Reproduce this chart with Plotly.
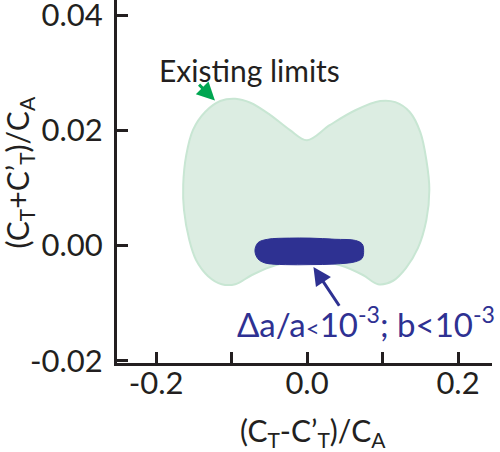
import plotly.graph_objects as go

# outline of the "existing limits" region
limX = [0.000, 0.030, 0.064, 0.097, 0.117, 0.136, 0.150, 0.158, 0.162, 0.158,
        0.147, 0.131, 0.114, 0.094, 0.074, 0.044, 0.000, -0.042, -0.073, -0.095,
        -0.113, -0.131, -0.147, -0.156, -0.163, -0.164, -0.160, -0.151, -0.135,
        -0.115, -0.095, -0.075, -0.049, -0.023, 0.000]
limY = [0.0183, 0.0209, 0.0235, 0.0251, 0.0249, 0.0232, 0.0197, 0.0149, 0.0097, 0.0044,
        -0.0004, -0.0039, -0.0061, -0.0067, -0.0051, -0.0034, -0.0025, -0.0034, -0.0051, -0.0067,
        -0.0067, -0.0053, -0.0025, 0.0010, 0.0062, 0.0105, 0.0157, 0.0201, 0.0232,
        0.0251, 0.0255, 0.0248, 0.0227, 0.0201, 0.0183]

# outline of the new-limit blob
newX = [-0.069, -0.065, -0.052, -0.023, 0.004, 0.037, 0.064, 0.073, 0.075, 0.073,
        0.064, 0.037, 0.004, -0.029, -0.056, -0.065, -0.069]
newY = [-0.0009, 0.0005, 0.0011, 0.0013, 0.0013, 0.0011, 0.0009, 0.0003, -0.0009, -0.0022,
        -0.0028, -0.0032, -0.0033, -0.0033, -0.0030, -0.0023, -0.0009]

xTicks = [-0.2, -0.1, 0.0, 0.1, 0.2]
xTickText = ["-0.2", "", "0.0", "", "0.2"]
yTicks = [-0.02, 0.00, 0.02, 0.04]
yTickText = ["-0.02", "0.00", "0.02", "0.04"]

INK = "#231f20"
BLUE = "#2e3192"
GREEN = "#00a651"
FONT = "Lato"

fig = go.Figure()

fig.add_trace(go.Scatter(
    x=limX, y=limY,
    mode="lines",
    line=dict(color="#c8e6d3", width=2, shape="spline", smoothing=1.0),
    fill="toself",
    fillcolor="#dcede2",
    hoverinfo="skip"
))

fig.add_trace(go.Scatter(
    x=newX, y=newY,
    mode="lines",
    line=dict(color=BLUE, width=1, shape="spline", smoothing=1.0),
    fill="toself",
    fillcolor=BLUE,
    hoverinfo="skip"
))

# arrows
fig.add_annotation(
    x=-0.122, y=0.0252, ax=-0.145, ay=0.0282,
    xref="x", yref="y", axref="x", ayref="y",
    text="", showarrow=True, arrowhead=2, arrowsize=1.2,
    arrowwidth=3, arrowcolor=GREEN
)
fig.add_annotation(
    x=0.0085, y=-0.0037, ax=0.044, ay=-0.0107,
    xref="x", yref="y", axref="x", ayref="y",
    text="", showarrow=True, arrowhead=2, arrowsize=1.2,
    arrowwidth=3, arrowcolor=BLUE
)

# labels
fig.add_annotation(
    x=-0.076, y=0.0305, xref="x", yref="y", xanchor="center", yanchor="middle",
    text="Existing limits", showarrow=False,
    font=dict(family=FONT, size=30, color=INK)
)
fig.add_annotation(
    x=-0.096, y=-0.0133, xref="x", yref="y", xanchor="left", yanchor="middle",
    text="Δa/a<span style='font-size:24px'>&lt;</span>10<sup>-3</sup>; b&lt;10<sup>-3</sup>",
    showarrow=False,
    font=dict(family=FONT, size=33, color=BLUE)
)

# axis titles
fig.add_annotation(
    x=0.523, y=-0.19, xref="paper", yref="paper", xanchor="center", yanchor="middle",
    text="(C<sub>T</sub>-C’<sub>T</sub>)/C<sub>A</sub>", showarrow=False,
    font=dict(family=FONT, size=30, color=INK)
)
fig.add_annotation(
    x=-0.261, y=0.525, xref="paper", yref="paper", xanchor="center", yanchor="middle",
    textangle=-90,
    text="(C<sub>T</sub>+C’<sub>T</sub>)/C<sub>A</sub>", showarrow=False,
    font=dict(family=FONT, size=30, color=INK)
)

fig.update_layout(
    width=500, height=452,
    margin=dict(l=117, r=8, t=0, b=89),
    plot_bgcolor="white",
    paper_bgcolor="white",
    showlegend=False,
    font=dict(family=FONT, size=31, color=INK)
)

fig.update_xaxes(
    range=[-0.2517, 0.245], automargin=False,
    tickvals=xTicks, ticktext=xTickText,
    ticks="inside", ticklen=11, tickwidth=3, tickcolor=INK,
    showline=True, linewidth=3, linecolor=INK,
    showgrid=False, zeroline=False,
    ticklabelstandoff=-9, ticklabeloverflow="allow"
)
fig.update_yaxes(
    range=[-0.02038, 0.04264], automargin=False,
    tickvals=yTicks, ticktext=yTickText,
    ticks="inside", ticklen=11, tickwidth=3, tickcolor=INK,
    showline=True, linewidth=3, linecolor=INK,
    showgrid=False, zeroline=False,
    ticklabelstandoff=5, ticklabeloverflow="allow"
)

# page body has a default 8px margin; drop it so the figure sits at the corner
fig.write_html("out.html", config={"displayModeBar": False},
               post_script="document.body.style.margin='0';")
